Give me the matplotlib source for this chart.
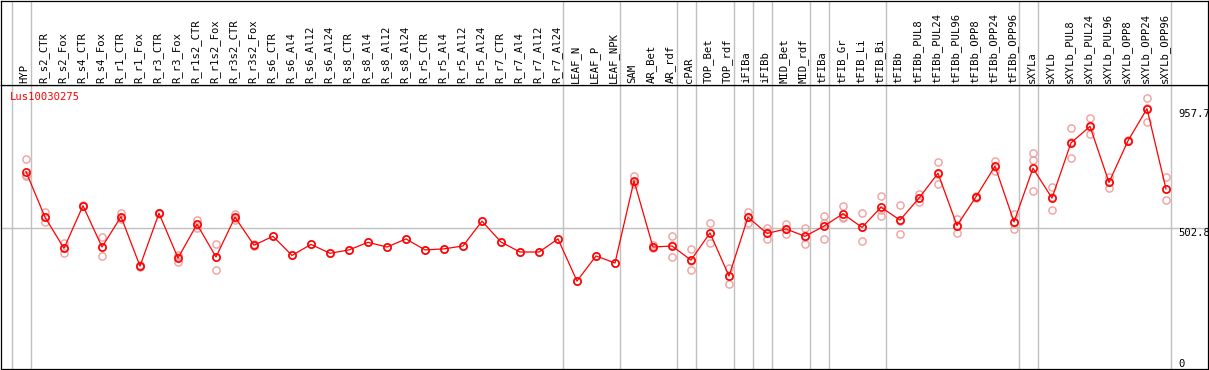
import matplotlib
matplotlib.use('Agg')
import matplotlib.pyplot as plt

gene = 'Lus10030275'

samples = ['HYP', 'R_s2_CTR', 'R_s2_Fox', 'R_s4_CTR', 'R_s4_Fox', 'R_r1_CTR', 'R_r1_Fox',
           'R_r3_CTR', 'R_r3_Fox', 'R_r1s2_CTR', 'R_r1s2_Fox', 'R_r3s2_CTR', 'R_r3s2_Fox',
           'R_s6_CTR', 'R_s6_Al4', 'R_s6_Al12', 'R_s6_Al24', 'R_s8_CTR', 'R_s8_Al4',
           'R_s8_Al12', 'R_s8_Al24', 'R_r5_CTR', 'R_r5_Al4', 'R_r5_Al12', 'R_r5_Al24',
           'R_r7_CTR', 'R_r7_Al4', 'R_r7_Al12', 'R_r7_Al24', 'LEAF_N', 'LEAF_P', 'LEAF_NPK',
           'SAM', 'AR_Bet', 'AR_rdf', 'cPAR', 'TOP_Bet', 'TOP_rdf', 'iFIBa', 'iFIBb',
           'MID_Bet', 'MID_rdf', 'tFIBa', 'tFIB_Gr', 'tFIB_Li', 'tFIB_Bi', 'tFIBb',
           'tFIBb_PUL8', 'tFIBb_PUL24', 'tFIBb_PUL96', 'tFIBb_OPP8', 'tFIBb_OPP24',
           'tFIBb_OPP96', 'sXYLa', 'sXYLb', 'sXYLb_PUL8', 'sXYLb_PUL24', 'sXYLb_PUL96',
           'sXYLb_OPP8', 'sXYLb_OPP24', 'sXYLb_OPP96']

means = [717, 543, 424, 587, 429, 545, 356, 558, 387, 516, 391, 543, 436,
         470, 397, 439, 405, 418, 447, 429, 460, 418, 422, 433, 528,
         448, 410, 410, 460, 299, 395, 368,
         682, 429, 433, 379, 483, 318, 543, 481, 498, 470, 509, 556, 504, 581,
         532, 616, 711, 511, 621, 738, 525,
         730, 616, 827, 890, 676, 835, 957.7, 651]

replicates = [
    (764, 704, 700), (564, 526, 543), (446, 405, 424), (586, 590, 584), (466, 394, 428),
    (560, 540, 535), (356, 352, 361), (558, 556, 560), (399, 373, 390), (532, 501, 514),
    (439, 340, 391), (554, 540, 534), (435, 440, 432),
    (470,), (397,), (439,), (405,), (418,), (447,), (429,), (460,), (418,), (422,),
    (433,), (528,), (448,), (410,), (410,), (460,), (299,), (395,), (368,),
    (700, 678, 669), (437, 424, 429), (470, 391, 438), (422, 341, 376), (521, 443, 484),
    (348, 289, 318), (564, 522, 542), (503, 461, 481), (518, 478, 498), (501, 442, 468),
    (548, 460, 521), (586, 539, 544), (558, 451, 504), (624, 549, 570),
    (588, 479, 530), (632, 600, 617), (754, 669, 709), (535, 484, 513), (621, 625, 618),
    (758, 718, 736), (555, 497, 522),
    (788, 762, 643), (657, 569, 622), (883, 768, 829), (923, 860, 888), (698, 656, 676),
    (838, 833, 835), (997, 906, 960), (695, 608, 650),
]

# last sample index of each group (group separators)
group_ends = [-1, 0, 28, 31, 34, 35, 37, 38, 39, 41, 42, 45, 52, 53, 60]
ref_value = 502.8
y_ticks = [957.7, 502.8, 0]

mono = 'DejaVu Sans Mono'
W, H = 1209, 370
fig = plt.figure(figsize=(W / 100, H / 100), dpi=100)

left, right = 1, 1208
top_hdr, sep, bottom = 0.5, 85.3, 368.5
ax = fig.add_axes([left / W, (H - bottom) / H, (right - left) / W, (bottom - sep) / H])
hdr = fig.add_axes([left / W, (H - sep) / H, (right - left) / W, (sep - top_hdr) / H])

xmin = -(26 - left) / 19
xmax = xmin + (right - left) / 19
for a in (ax, hdr):
    a.set_xlim(xmin, xmax)
    a.set_xticks([])
    a.set_yticks([])
    for s in a.spines.values():
        s.set_color('black')
        s.set_linewidth(0.9)
ax.set_ylim(-(bottom - 359.3) / 0.2617, (359.3 - sep) / 0.2617)
hdr.set_ylim(0, 1)

for g in group_ends:
    ax.axvline(g + 0.25, color='#c0c0c0', lw=1.0, zorder=0)
    hdr.axvline(g + 0.25, color='#c0c0c0', lw=1.0, zorder=0)
ax.axhline(ref_value, color='#c0c0c0', lw=1.0, zorder=0)

xs = list(range(len(samples)))
for i, reps in enumerate(replicates):
    ax.plot([i] * len(reps), reps, linestyle='none', marker='o', ms=5.2,
            mfc='none', mec='#f0a0a0', mew=1.0, zorder=2)
ax.plot(xs, means, color='red', lw=0.9, zorder=3)
ax.plot(xs, means, linestyle='none', marker='o', ms=5.2, mfc='none',
        mec='red', mew=1.2, zorder=4)

for i, name in enumerate(samples):
    hdr.text(i - 0.08, 0.025, name, rotation=90, ha='center', va='bottom',
             family=mono, fontsize=7.6, color='black')

tx = (1178 - 26) / 19
for v in y_ticks:
    ax.text(tx, v, f'{v:g}', ha='left', va='top', family=mono, fontsize=7.6,
            color='black', clip_on=False)
ax.text((10 - 26) / 19, (359.3 - 97) / 0.2617, gene, ha='left', va='center',
        family=mono, fontsize=7.6, color='red')

fig.savefig('out.png', dpi=100)
